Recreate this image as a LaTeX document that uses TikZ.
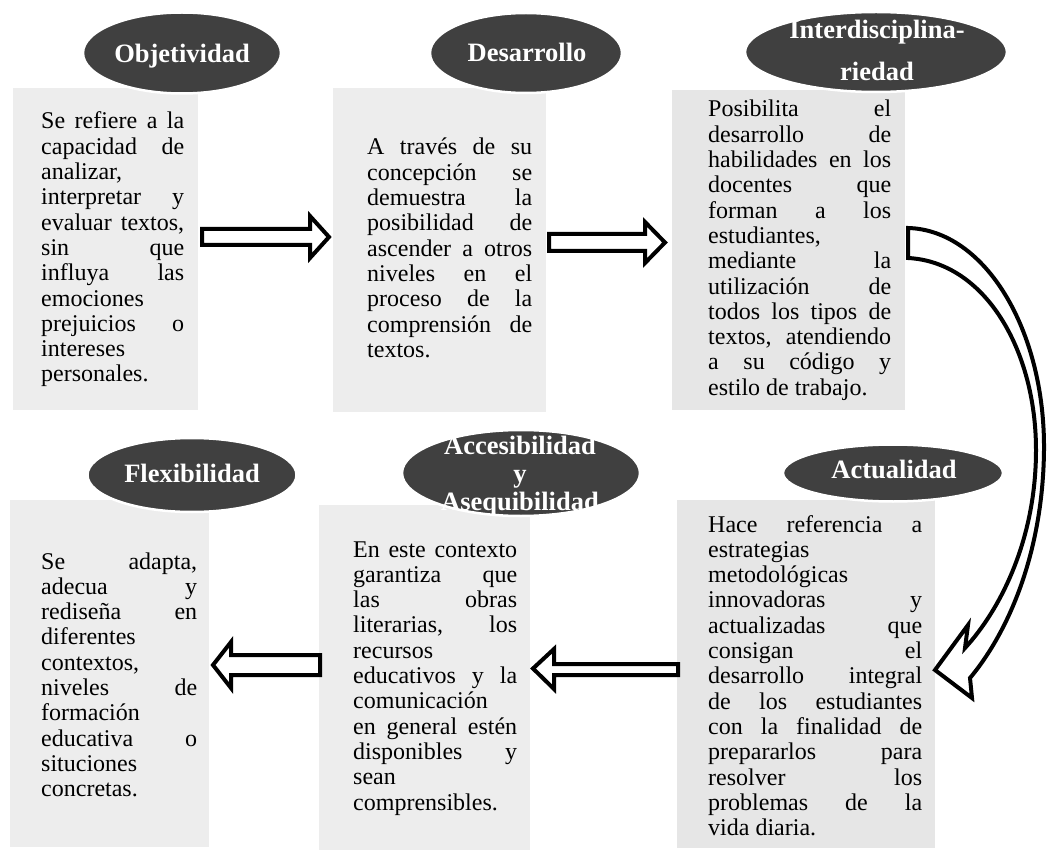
\documentclass[tikz,border=0pt]{standalone}
\usepackage{fontspec}
\setmainfont{Liberation Serif}
\usetikzlibrary{shapes.geometric}
\hbadness=10000 \hfuzz=20pt
\newcommand\J[1]{\hbox to\hsize{#1}}
\newcommand\Lf[1]{\hbox to\hsize{#1\hfil}}
\newcommand\TB[2]{\vtop{\hsize=#1\relax #2}}
\definecolor{ellgray}{HTML}{404040}
\definecolor{boxa}{HTML}{EDEDED}
\definecolor{boxb}{HTML}{E6E6E6}
\tikzset{
  panel/.style={rectangle, fill=boxa, draw=none, inner sep=0pt, anchor=north west},
  body/.style={inner sep=0pt, anchor=base west,
    font=\fontsize{24}{25.3}\selectfont, text=black},
  oval/.style={ellipse, fill=ellgray, draw=white, line width=2.5pt, inner sep=0pt},
  title/.style={inner sep=0pt, anchor=base, text=white, text width=300pt, align=center,
    font=\fontsize{26.5}{28}\selectfont\bfseries},
  blockarrow/.style={draw=black, fill=white, line width=4pt, line join=miter}
}
\begin{document}
\begin{tikzpicture}[x=1pt,y=-1pt]
\useasboundingbox (0,0) rectangle (1047,850);
% panels
\node[panel, minimum width=185pt, minimum height=322pt] (b1) at (13,88) {};
\node[panel, minimum width=213pt, minimum height=324pt] (b2) at (333,88) {};
\node[panel, fill=boxb, minimum width=233pt, minimum height=320pt] (b3) at (672,90) {};
\node[panel, minimum width=199pt, minimum height=347pt] (b4) at (10,500) {};
\node[panel, minimum width=211pt, minimum height=345pt] (b5) at (319,505) {};
\node[panel, fill=boxb, minimum width=258pt, minimum height=348pt] (b6) at (677,500) {};
% texts
\node[body] (t1) at (41,129) {\TB{143pt}{%
\J{Se refiere a la}\J{capacidad de}\Lf{analizar,}\J{interpretar y}%
\J{evaluar textos,}\J{sin que}\J{influya las}\Lf{emociones}%
\J{prejuicios o}\Lf{intereses}\Lf{personales.}}};
\node[body] (t2) at (367,155) {\TB{165pt}{%
\J{A través de su}\J{concepción se}\J{demuestra la}\J{posibilidad de}%
\J{ascender a otros}\J{niveles en el}\J{proceso de la}\J{comprensión de}%
\Lf{textos.}}};
\node[body] (t3) at (708,117) {\TB{183pt}{%
\J{Posibilita el}\J{desarrollo de}\J{habilidades en los}\J{docentes que}%
\J{forman a los}\Lf{estudiantes,}\J{mediante la}\J{utilización de}%
\J{todos los tipos de}\J{textos, atendiendo}\J{a su código y}\Lf{estilo de trabajo.}}};
\node[body] (t4) at (41,569) {\TB{156pt}{%
\J{Se adapta,}\J{adecua y}\J{rediseña en}\Lf{diferentes}\Lf{contextos,}%
\J{niveles de}\Lf{formación}\J{educativa o}\Lf{situciones}\Lf{concretas.}}};
\node[body] (t5) at (353,557) {\TB{164pt}{%
\J{En este contexto}\J{garantiza que}\J{las obras}\J{literarias, los}%
\Lf{recursos}\J{educativos y la}\Lf{comunicación}\J{en general estén}%
\J{disponibles y}\Lf{sean}\Lf{comprensibles.}}};
\node[body] (t6) at (708,532) {\TB{214pt}{%
\J{Hace referencia a}\Lf{estrategias}\Lf{metodológicas}\J{innovadoras y}%
\J{actualizadas que}\J{consigan el}\J{desarrollo integral}\J{de los estudiantes}%
\J{con la finalidad de}\J{prepararlos para}\J{resolver los}\J{problemas de la}%
\Lf{vida diaria.}}};
% ovals
\node[oval, minimum width=198pt, minimum height=81pt] (e1) at (182,53) {};
\node[oval, minimum width=192pt, minimum height=80pt] (e2) at (526,53) {};
\node[oval, minimum width=262pt, minimum height=80pt] (e3) at (876,52) {};
\node[oval, minimum width=209pt, minimum height=74pt] (e4) at (192,475) {};
\node[oval, minimum width=238pt, minimum height=86pt] (e5) at (521,473) {};
\node[oval, minimum width=220pt, minimum height=57pt] (e6) at (893,473) {};
\node[title] (l1) at (182,63) {Objetividad};
\node[title] (l2) at (527,62) {Desarrollo};
\node[title, font=\fontsize{26.5}{42}\selectfont\bfseries] (l3) at (877,39) {Interdisciplina-\\riedad};
\node[title] (l4) at (192,482) {Flexibilidad};
\node[title] (l5) at (520,454) {Accesibilidad\\y\\Asequibilidad};
\node[title] (l6) at (894,478) {Actualidad};
% straight block arrows
\draw[blockarrow] (202,229) -- (310,229) -- (310,216) -- (329,237) -- (310,258) -- (310,245) -- (202,245) -- cycle;
\draw[blockarrow] (549,234) -- (645,234) -- (645,222) -- (665,242.5) -- (645,263) -- (645,251) -- (549,251) -- cycle;
\draw[blockarrow] (320,655) -- (231,655) -- (231,642) -- (213,665) -- (231,688) -- (231,675) -- (320,675) -- cycle;
\draw[blockarrow] (678,664) -- (554,664) -- (554,649) -- (533,668.5) -- (554,689) -- (554,675) -- (678,675) -- cycle;
% curved block arrow
\draw[blockarrow] (908,228) .. controls (985,230) and (1045,330) .. (1044,450)
  .. controls (1043,550) and (1010,630) .. (970,678) -- (972,698) -- (935,670)
  -- (968,625) -- (965,648) .. controls (1000,610) and (1036,540) .. (1036,450)
  .. controls (1036,350) and (985,262) .. (908,258) -- cycle;
\end{tikzpicture}
\end{document}
